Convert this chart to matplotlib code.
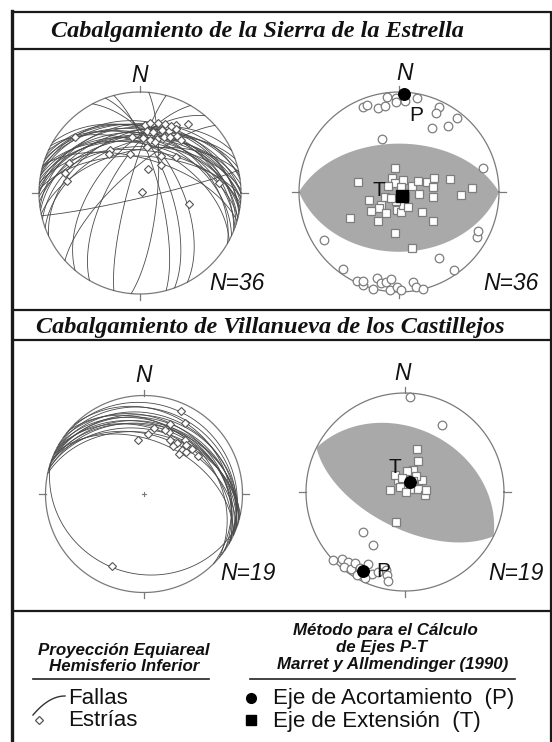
import numpy as np
import matplotlib
matplotlib.use("Agg")
import matplotlib.pyplot as plt

# ---------------- DATA ----------------
# Top-left: Sierra de la Estrella faults (dip direction, dip) and striae (trend, plunge)
tl_fault_dipdir = [0, 5, 10, 355, 15, 350, 20, 8, 358, 12, 345, 25, 3, 340, 18, 352, 30, 6,
                   14, 348, 22, 2, 335, 10, 28, 0, 16,
                   167, 310, 300, 318, 62, 70, 75, 285, 95]
tl_fault_dip = [35, 40, 33, 45, 38, 38, 42, 48, 52, 30, 42, 45, 44, 48, 35, 32, 40, 55,
                50, 55, 36, 60, 40, 45, 52, 42, 62,
                86, 55, 65, 72, 58, 66, 74, 80, 76]
tl_striae_trend = [4, 8, 14, 20, 28, 35, 6, 12, 19, 25, 29, 3, 11, 17, 23, 28, 33, 38,
                   16, 9, 352, 346, 325, 322, 311, 293, 285, 279, 30, 45, 37, 18, 70, 103, 83, 25]
tl_striae_plunge = [33, 31, 29, 28, 25, 18, 38, 38, 34, 33, 28, 45, 46, 43, 40, 37, 33, 34,
                    46, 52, 43, 57, 47, 49, 16, 25, 24, 28, 55, 48, 62, 70, 88, 49, 22, 28]

# Top-right: P (circles) and T (squares) axes, trend/plunge
tr_p_trend = [337, 340, 346, 351, 353, 358, 358, 4, 11, 25, 25, 38, 27, 37, 342, 74,
              237, 120, 149, 145, 216, 205, 201, 202, 194, 191, 188, 185, 181, 179,
              171, 170, 166, 116, 195, 185]
tr_p_plunge = [9, 8, 15, 14, 5, 7, 11, 10, 5, 7, 14, 7, 29, 19, 44, 14,
               12, 11, 24, 5, 5, 2, 0, 5, 12, 8, 10, 2, 6, 2,
               10, 4, 0, 13, 0, 14]
tr_t_trend = [284, 333, 335, 21, 64, 70, 69, 81, 76, 87, 93, 98, 96, 255, 235, 232, 236, 212,
              185, 174, 132, 216, 242, 130, 185, 167, 163, 120, 300, 20, 200, 250, 60, 150, 230, 350]
tr_t_plunge = [55, 77, 82, 80, 78, 66, 59, 62, 46, 28, 38, 62, 74, 65, 72, 69, 62, 70,
               75, 74, 65, 61, 44, 53, 56, 42, 79, 84, 80, 86, 82, 78, 72, 76, 82, 70]
tr_P = (3, 2)
tr_T = (140, 86)
tr_nodal_dipdir = [0, 180]
tr_nodal_dip = [50, 40]

# Bottom-left: Villanueva de los Castillejos faults and striae
bl_fault_dipdir = [17, 20, 15, 22, 25, 12, 18, 28, 20, 30, 25, 35, 14, 40, 30, 45, 38, 24, 198]
bl_fault_dip = [28, 32, 35, 25, 30, 38, 22, 35, 40, 28, 20, 25, 30, 30, 15, 18, 10, 45, 20]
bl_striae_trend = [24, 30, 20, 9, 4, 354, 22, 26, 33, 37, 41, 41, 45, 47, 55, 31, 41, 204, 18]
bl_striae_plunge = [9, 18, 25, 33, 39, 44, 33, 39, 38, 32, 41, 45, 39, 34, 34, 43, 35, 21, 32]

# Bottom-right: P and T axes
br_p_trend = [3, 29, 226, 211, 227, 223, 219, 219, 215, 215, 211, 207, 202, 194, 192, 191, 210, 205, 199]
br_p_plunge = [4, 24, 41, 38, 0, 8, 10, 3, 5, 13, 12, 19, 12, 20, 15, 9, 4, 5, 16]
br_t_trend = [16, 23, 19, 5, 331, 54, 344, 276, 315, 56, 77, 98, 196, 84, 90, 34, 328, 348, 36]
br_t_plunge = [53, 62, 71, 73, 79, 73, 85, 78, 84, 85, 79, 73, 64, 73, 89, 74, 74, 78, 79]
br_P = (208, 10)
br_T = (26, 81)
br_nodal_dipdir = [26.5, 206.5]
br_nodal_dip = [36, 60]

titles = ["Cabalgamiento de la Sierra de la Estrella",
          "Cabalgamiento de Villanueva de los Castillejos"]
n_labels = ["N=36", "N=36", "N=19", "N=19"]

# ---------------- HELPERS ----------------
W, H = 552, 742
fig = plt.figure(figsize=(W / 100, H / 100), dpi=100)
fig.patch.set_facecolor("white")
ax0 = fig.add_axes([0, 0, 1, 1])
ax0.set_xlim(0, W)
ax0.set_ylim(H, 0)
ax0.axis("off")
ax0.set_zorder(10)
ax0.patch.set_visible(False)

SANS = "Liberation Sans"
SERIF = "Liberation Serif"
PRIM = "#7a7a7a"
ARC = "#4a4a4a"
MK = "#7d7d7d"


def proj_line(trend, plunge):
    t = np.radians(np.asarray(trend, float))
    p = np.radians(np.asarray(plunge, float))
    r = np.sqrt(2) * np.sin((np.pi / 2 - p) / 2)
    return r * np.sin(t), r * np.cos(t)


def proj_plane(dipdir, dip, n=181):
    dd = np.radians(dipdir)
    d = np.radians(dip)
    st = dd - np.pi / 2
    a = np.linspace(0, np.pi, n)
    vE = np.cos(a) * np.sin(st) + np.sin(a) * np.sin(dd) * np.cos(d)
    vN = np.cos(a) * np.cos(st) + np.sin(a) * np.cos(dd) * np.cos(d)
    vD = np.sin(a) * np.sin(d)
    pl = np.degrees(np.arcsin(np.clip(vD, -1, 1)))
    tr = np.degrees(np.arctan2(vE, vN))
    return proj_line(tr, pl)


def stereonet(cx, cy, R, center_cross=False):
    ax = fig.add_axes([(cx - 1.2 * R) / W, 1 - (cy + 1.2 * R) / H, 2.4 * R / W, 2.4 * R / H])
    ax.set_xlim(-1.2, 1.2)
    ax.set_ylim(-1.2, 1.2)
    ax.axis("off")
    t = np.linspace(0, 2 * np.pi, 400)
    ax.plot(np.cos(t), np.sin(t), color=PRIM, lw=0.9, zorder=2)
    for (x0, y0, x1, y1) in [(0, 1, 0, 1.06), (0, -1, 0, -1.06), (1, 0, 1.07, 0), (-1, 0, -1.07, 0)]:
        ax.plot([x0, x1], [y0, y1], color=PRIM, lw=0.9, clip_on=False)
    if center_cross:
        ax.plot([-0.025, 0.025], [0, 0], color=PRIM, lw=0.8)
        ax.plot([0, 0], [-0.025, 0.025], color=PRIM, lw=0.8)
    return ax


def nodal_lens(ax, dipdirs, dips):
    x1, y1 = proj_plane(dipdirs[0], dips[0])
    x2, y2 = proj_plane(dipdirs[1], dips[1])
    ax.fill(np.concatenate([x1, x2]), np.concatenate([y1, y2]), color="#a9a9a9", lw=0, zorder=1)


# ---------------- FRAME & TITLES ----------------
fk = dict(color="#1a1a1a", lw=1.6, solid_capstyle="butt")
ax0.plot([12, 12], [11, H], color="#1a1a1a", lw=2.4)
ax0.plot([551, 551], [11, H], **fk)
for yy in [12, 49, 310, 340, 611]:
    ax0.plot([12, 551], [yy, yy], **fk)

ax0.text(257, 37.5, titles[0], ha="center", va="baseline", family=SERIF,
         weight="bold", style="italic", fontsize=17.5, color="#111111")
ax0.text(270.5, 333.5, titles[1], ha="center", va="baseline", family=SERIF,
         weight="bold", style="italic", fontsize=17.5, color="#111111")

# ---------------- TOP-LEFT ----------------
ax = stereonet(140, 193, 101)
for dd, dp in zip(tl_fault_dipdir, tl_fault_dip):
    x, y = proj_plane(dd, dp)
    ax.plot(x, y, color=ARC, lw=0.6, zorder=3)
x, y = proj_line(tl_striae_trend, tl_striae_plunge)
ax.plot(x, y, ls="none", marker="D", ms=3.8, mfc="white", mec="#555555", mew=0.8, zorder=4, clip_on=False)

# ---------------- TOP-RIGHT ----------------
ax = stereonet(399, 192, 100)
nodal_lens(ax, tr_nodal_dipdir, tr_nodal_dip)
x, y = proj_line(tr_p_trend, tr_p_plunge)
ax.plot(x, y, ls="none", marker="o", ms=6.2, mfc="white", mec=MK, mew=0.9, zorder=4, clip_on=False)
x, y = proj_line(tr_t_trend, tr_t_plunge)
ax.plot(x, y, ls="none", marker="s", ms=5.8, mfc="white", mec=MK, mew=0.9, zorder=4, clip_on=False)
x, y = proj_line(*tr_P)
ax.plot(x, y, ls="none", marker="o", ms=8.3, color="black", zorder=5, clip_on=False)
x, y = proj_line(*tr_T)
ax.plot(x, y, ls="none", marker="s", ms=8.8, color="black", zorder=5, clip_on=False)

# ---------------- BOTTOM-LEFT ----------------
ax = stereonet(144, 494, 98.5, center_cross=True)
for dd, dp in zip(bl_fault_dipdir, bl_fault_dip):
    x, y = proj_plane(dd, dp)
    ax.plot(x, y, color=ARC, lw=0.6, zorder=3)
x, y = proj_line(bl_striae_trend, bl_striae_plunge)
ax.plot(x, y, ls="none", marker="D", ms=3.8, mfc="white", mec="#555555", mew=0.8, zorder=4, clip_on=False)

# ---------------- BOTTOM-RIGHT ----------------
ax = stereonet(405, 492, 99)
nodal_lens(ax, br_nodal_dipdir, br_nodal_dip)
x, y = proj_line(br_p_trend, br_p_plunge)
ax.plot(x, y, ls="none", marker="o", ms=6.2, mfc="white", mec=MK, mew=0.9, zorder=4, clip_on=False)
x, y = proj_line(br_t_trend, br_t_plunge)
ax.plot(x, y, ls="none", marker="s", ms=5.8, mfc="white", mec=MK, mew=0.9, zorder=4, clip_on=False)
x, y = proj_line(*br_P)
ax.plot(x, y, ls="none", marker="o", ms=8.3, color="black", zorder=5, clip_on=False)
x, y = proj_line(*br_T)
ax.plot(x, y, ls="none", marker="o", ms=8.3, color="black", zorder=5, clip_on=False)

# ---------------- LABELS ----------------
nk = dict(family=SANS, style="italic", fontsize=16.5, color="#111111", ha="center", va="baseline")
for (xx, yy) in [(140, 82), (405, 80), (144, 382), (403, 380)]:
    ax0.text(xx, yy, "N", **nk)
for (xx, yy), s in zip([(237, 290), (511, 290), (248, 580), (516, 580)], n_labels):
    ax0.text(xx, yy, s, **nk)
pk = dict(family=SANS, fontsize=15, color="#111111", ha="center", va="baseline")
ax0.text(416, 121, "P", **pk)
ax0.text(379, 196, "T", **pk)
ax0.text(395, 473, "T", **pk)
ax0.text(383, 577, "P", **pk)

# ---------------- LEGEND ----------------
hk = dict(family=SANS, weight="bold", style="italic", fontsize=12.2, color="#111111",
          ha="center", va="baseline")
ax0.text(124, 655, "Proyección Equiareal", **hk)
ax0.text(124, 671, "Hemisferio Inferior", **hk)
ax0.text(385, 635, "Método para el Cálculo", **hk)
ax0.text(382, 652, "de Ejes P-T", **hk)
ax0.text(393, 669, "Marret y Allmendinger (1990)", **hk)
ax0.plot([33, 209], [679, 679], color="#222222", lw=1.2)
ax0.plot([250, 515], [679, 679], color="#222222", lw=1.2)

lk = dict(family=SANS, fontsize=16, color="#111111", ha="left", va="baseline")
tt = np.linspace(0, 1, 30)
ax0.plot(33 + 32 * tt, 715 - 19 * (1 - (1 - tt) ** 2), color="#333333", lw=1.0)
ax0.text(68, 704, "Fallas", **lk)
ax0.plot([39], [719.5], ls="none", marker="D", ms=4.2, mfc="white", mec="#555555", mew=0.9)
ax0.text(68, 726.5, "Estrías", **lk)
ax0.plot([251], [698], ls="none", marker="o", ms=7, color="black")
ax0.text(273, 704, "Eje de Acortamiento  (P)", **lk)
ax0.plot([251], [720], ls="none", marker="s", ms=7, color="black")
ax0.text(273, 726.5, "Eje de Extensión  (T)", **lk)

fig.savefig("out.png", dpi=100, facecolor="white")
